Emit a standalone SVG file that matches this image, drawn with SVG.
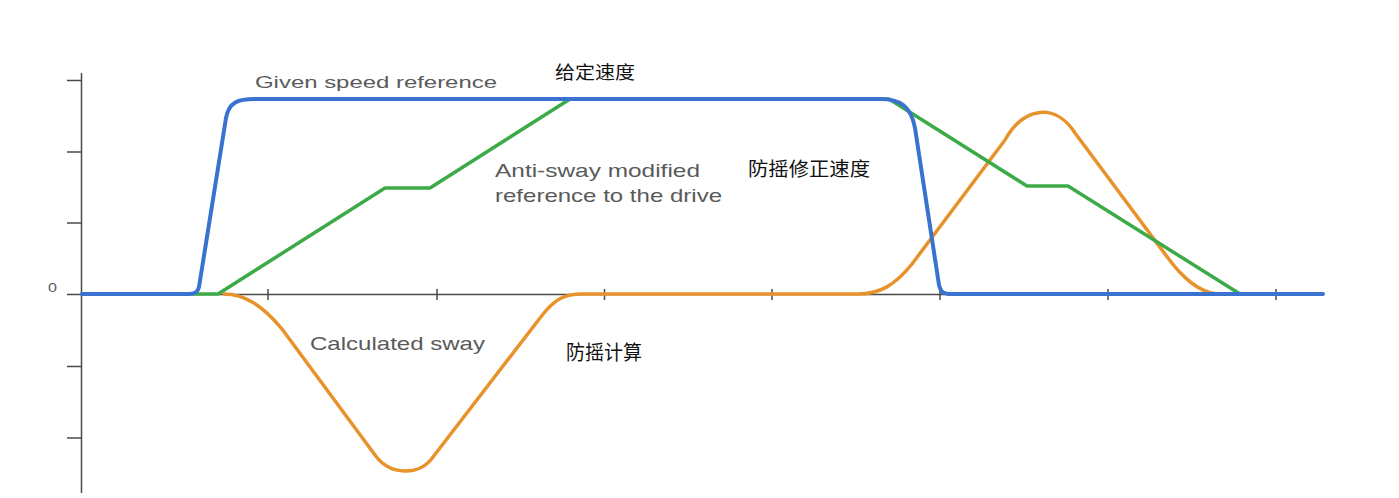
<svg xmlns="http://www.w3.org/2000/svg" width="1399" height="498" viewBox="0 0 1399 498">
  <style>
    .axis { stroke: #4a4a4a; stroke-width: 1.5; fill: none; }
    .curve { fill: none; stroke-linejoin: round; stroke-linecap: round; }
    .en { font-family: "Liberation Sans", Arial, sans-serif; fill: #5a5a5a; }
    .cn { font-family: "Noto Sans CJK SC", "Noto Sans", sans-serif; fill: #111111; }
  </style>
  <rect x="0" y="0" width="1399" height="498" fill="#ffffff"/>

  <g id="axes">
    <line class="axis" x1="81.5" y1="73" x2="81.5" y2="493"/>
    <line class="axis" x1="67" y1="294.5" x2="1322" y2="294.5"/>
    <g id="y-ticks">
      <line class="axis" x1="67" y1="80.5" x2="81.5" y2="80.5"/>
      <line class="axis" x1="67" y1="152" x2="81.5" y2="152"/>
      <line class="axis" x1="67" y1="223" x2="81.5" y2="223"/>
      <line class="axis" x1="67" y1="366.5" x2="81.5" y2="366.5"/>
      <line class="axis" x1="67" y1="438" x2="81.5" y2="438"/>
    </g>
    <g id="x-ticks">
      <line class="axis" x1="268" y1="289" x2="268" y2="300"/>
      <line class="axis" x1="437" y1="289" x2="437" y2="300"/>
      <line class="axis" x1="604.5" y1="289" x2="604.5" y2="300"/>
      <line class="axis" x1="772" y1="289" x2="772" y2="300"/>
      <line class="axis" x1="940" y1="289" x2="940" y2="300"/>
      <line class="axis" x1="1108" y1="289" x2="1108" y2="300"/>
      <line class="axis" x1="1276" y1="289" x2="1276" y2="300"/>
    </g>
    <text id="zero-label" class="en" x="48" y="291.5" font-size="12" textLength="9" lengthAdjust="spacingAndGlyphs">0</text>
  </g>

  <g id="connectors">
    <path id="calculated-sway" class="curve" stroke="#e8922c" stroke-width="3.5"
      d="M 224 294 C 244 294, 262 305, 282 329 L 375 455 C 390 476, 420 476, 433 457 L 540 318 C 555 298, 565 294, 582 294 L 858 294 C 880 294, 895 285, 912 264 L 1005 140 C 1024 106, 1056 103, 1075 133 L 1168 258 C 1185 281, 1200 292, 1217 294"/>
    <path id="anti-sway-reference" class="curve" stroke="#3cab47" stroke-width="3.5"
      d="M 185 294 L 218 294 L 385 188 L 430 188 L 570 99 L 889 99 L 1027 186 L 1068 186 L 1240 294 L 1250 294"/>
    <path id="given-speed-reference" class="curve" stroke="#3a72cf" stroke-width="4"
      d="M 82 294 L 188 294 C 195 294, 198 292, 199 287 L 226 118 C 229 102, 238 99, 255 99 L 880 99 C 900 99, 911 106, 915 128 L 939 285 C 941 293, 944 294, 952 294 L 1323 294"/>
  </g>

  <g id="label-given">
    <text class="en" x="255" y="87.5" font-size="17" textLength="242" lengthAdjust="spacingAndGlyphs">Given speed reference</text>
    <text class="cn" x="555" y="78.5" font-size="18" textLength="80" lengthAdjust="spacingAndGlyphs">给定速度</text>
  </g>
  <g id="label-anti-sway">
    <text class="en" x="495" y="176.5" font-size="19" textLength="205" lengthAdjust="spacingAndGlyphs">Anti-sway modified</text>
    <text class="en" x="495" y="201.5" font-size="19" textLength="227" lengthAdjust="spacingAndGlyphs">reference to the drive</text>
    <text class="cn" x="748" y="175.5" font-size="19" textLength="122" lengthAdjust="spacingAndGlyphs">防摇修正速度</text>
  </g>
  <g id="label-sway">
    <text class="en" x="310" y="349.5" font-size="19" textLength="175" lengthAdjust="spacingAndGlyphs">Calculated sway</text>
    <text class="cn" x="566" y="360" font-size="20" textLength="76" lengthAdjust="spacingAndGlyphs">防摇计算</text>
  </g>
</svg>
